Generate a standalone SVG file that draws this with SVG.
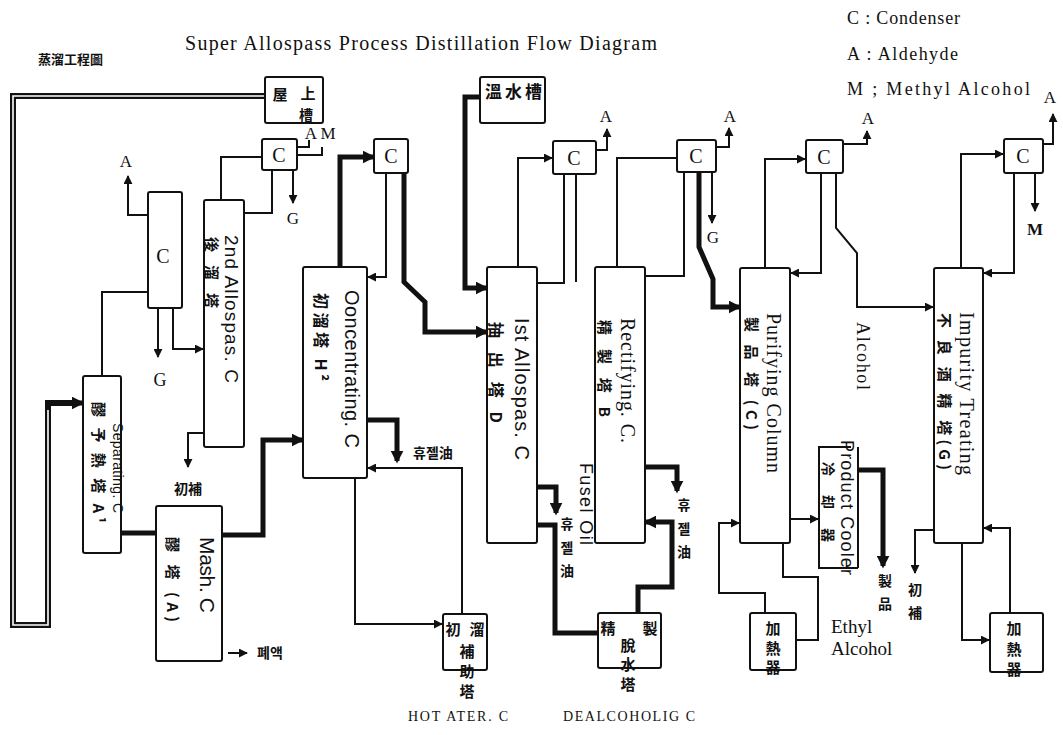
<svg xmlns="http://www.w3.org/2000/svg" width="1063" height="735" viewBox="0 0 1063 735">
<style>
.bx{fill:#fff;stroke:#111;stroke-width:2}
.tn{fill:none;stroke:#111;stroke-width:2}
.tk{fill:none;stroke:#111;stroke-width:5}
.sf{font-family:"Liberation Serif",serif;fill:#111}
.ss{font-family:"Liberation Sans",sans-serif;fill:#111}
.cj{font-family:"Noto Sans CJK KR","Noto Sans CJK TC",sans-serif;font-weight:bold;fill:#111}
.c{text-anchor:middle;dominant-baseline:central}
.rv{dominant-baseline:central}
</style>
<defs>
<marker id="a" viewBox="0 0 10 10" refX="9" refY="5" markerWidth="9" markerHeight="9" markerUnits="userSpaceOnUse" orient="auto"><path d="M0,0 L10,5 L0,10 z" fill="#111"/></marker>
<marker id="ak" viewBox="0 0 10 10" refX="8" refY="5" markerWidth="13" markerHeight="13" markerUnits="userSpaceOnUse" orient="auto"><path d="M0,0 L10,5 L0,10 z" fill="#111"/></marker>
</defs>
<rect width="1063" height="735" fill="#fff"/>

<!-- titles and legend -->
<text class="cj" x="38" y="64" font-size="13">蒸溜工程圖</text>
<text class="sf" x="185" y="50" font-size="20" textLength="472">Super Allospass Process Distillation Flow Diagram</text>
<text class="sf" x="847" y="24" font-size="18" textLength="113">C : Condenser</text>
<text class="sf" x="847" y="60" font-size="18" textLength="111">A : Aldehyde</text>
<text class="sf" x="847" y="95" font-size="18" textLength="183">M ; Methyl Alcohol</text>
<text class="sf" x="408" y="721" font-size="14" textLength="100">HOT ATER. C</text>
<text class="sf" x="563" y="721" font-size="14" textLength="132">DEALCOHOLIG C</text>

<!-- connectors -->
<g id="connectors">
<path d="M265 96 H13 V625 H48 V403 H72" fill="none" stroke="#111" stroke-width="6"/>
<path d="M265 96 H13 V625 H48 V410" fill="none" stroke="#fff" stroke-width="1.6"/>
<path d="M48 403 H82" class="tk" marker-end="url(#ak)"/>
<path d="M148 215 H128 V176" class="tn" marker-end="url(#a)"/>
<path d="M102 376 V292 H148" class="tn"/>
<path d="M158 308 V357" class="tn" marker-end="url(#a)"/>
<path d="M173 308 V349 H203" class="tn" marker-end="url(#a)"/>
<path d="M205 433 H188 V467" class="tn" marker-end="url(#a)"/>
<path d="M221 200 V157 H262" class="tn"/>
<path d="M272 170 V213 H243" class="tn"/>
<path d="M293 170 V203" class="tn" stroke-width="3" marker-end="url(#a)"/>
<path d="M297 147 H309 V140" class="tn"/>
<path d="M297 155 H322 V147" class="tn"/>
<path d="M340 267 V157 H373" class="tk" marker-end="url(#ak)"/>
<path d="M386 173 V277 H368" class="tn" marker-end="url(#a)"/>
<path d="M404 173 V282 L425 302 V332 H486" class="tk" marker-end="url(#ak)"/>
<path d="M122 533 H156" class="tk"/>
<path d="M222 535 H263 V440 H302" class="tk" marker-end="url(#ak)"/>
<path d="M367 420 H397 V461" class="tk" marker-end="url(#ak)"/>
<path d="M462 613 V468 H368" class="tn" marker-end="url(#a)"/>
<path d="M355 478 V624 H442" class="tn" marker-end="url(#a)"/>
<path d="M480 97 H465 V288 H486" class="tk" marker-end="url(#ak)"/>
<path d="M518 267 V158 H552" class="tn" marker-end="url(#a)"/>
<path d="M596 150 H607 V129" class="tn" marker-end="url(#a)"/>
<path d="M564 174 V283 H537" class="tn"/>
<path d="M576 174 V282" class="tn"/>
<path d="M537 487 H556 V513" class="tk" marker-end="url(#ak)"/>
<path d="M537 525 H555 V633 H598" class="tk"/>
<path d="M617 267 V158 H677" class="tn"/>
<path d="M716 147 H729 V128" class="tn" marker-end="url(#a)"/>
<path d="M684 172 V276 H645" class="tn"/>
<path d="M712 172 V223" class="tn" stroke-width="3" marker-end="url(#a)"/>
<path d="M699 172 V247 L713 279 V307 H739" class="tk" marker-end="url(#ak)"/>
<path d="M645 467 H677 V491" class="tk" marker-end="url(#ak)"/>
<path d="M638 613 V587 H672 V522 H646" class="tk" marker-end="url(#ak)"/>
<path d="M765 268 V159 H805" class="tn" marker-end="url(#a)"/>
<path d="M843 144 H867 V131" class="tn" marker-end="url(#a)"/>
<path d="M821 173 V273 H791" class="tn" marker-end="url(#a)"/>
<path d="M836 173 V228 L857 253 V307 H933" class="tn" marker-end="url(#a)"/>
<path d="M961 268 V154 H1003" class="tn" marker-end="url(#a)"/>
<path d="M1043 144 H1053 V114" class="tn" marker-end="url(#a)"/>
<path d="M1035 173 V211" class="tn" marker-end="url(#a)"/>
<path d="M1014 173 V273 H984" class="tn" marker-end="url(#a)"/>
<path d="M790 519 H818" class="tn" stroke-width="3.5" marker-end="url(#a)"/>
<path d="M859 470 H883 V566" class="tk" marker-end="url(#ak)"/>
<path d="M765 613 V593 H719 V523 H739" class="tn" marker-end="url(#a)"/>
<path d="M783 543 V577 H818 V640 H796" class="tn"/>
<path d="M934 530 H915 V573" class="tn" marker-end="url(#a)"/>
<path d="M962 543 V640 H989" class="tn" marker-end="url(#a)"/>
<path d="M1010 613 V528 H984" class="tn" marker-end="url(#a)"/>
<path d="M228 653 H247" class="tn" stroke-width="3" marker-end="url(#a)"/>
</g>

<!-- connector labels -->
<g id="labels">
<text class="sf c" x="126" y="161" font-size="17">A</text>
<text class="sf c" x="160" y="380" font-size="18">G</text>
<text class="cj c" x="188" y="488" font-size="14">初補</text>
<text class="sf c" x="293" y="218" font-size="17">G</text>
<text class="sf c" x="311" y="133" font-size="17">A</text>
<text class="sf c" x="328" y="133" font-size="17">M</text>
<text class="cj c" x="433" y="452" font-size="14">휴젤油</text>
<text class="sf c" x="606" y="116" font-size="17">A</text>
<text class="cj c" x="567" y="523" font-size="14">휴</text>
<text class="cj c" x="567" y="547" font-size="14">젤</text>
<text class="cj c" x="567" y="570" font-size="14">油</text>
<text class="sf c" x="730" y="116" font-size="17">A</text>
<text class="sf c" x="713" y="237" font-size="17">G</text>
<text class="cj c" x="684" y="504" font-size="14">휴</text>
<text class="cj c" x="684" y="528" font-size="14">젤</text>
<text class="cj c" x="684" y="551" font-size="14">油</text>
<text class="sf c" x="868" y="118" font-size="17">A</text>
<text class="sf c" x="1050" y="97" font-size="17">A</text>
<text class="sf c" x="1035" y="229" font-size="17" font-weight="bold">M</text>
<text class="cj c" x="885" y="580" font-size="14">製</text>
<text class="cj c" x="885" y="603" font-size="14">品</text>
<text class="cj c" x="915" y="589" font-size="14">初</text>
<text class="cj c" x="915" y="612" font-size="14">補</text>
<text class="sf" x="831" y="633" font-size="19">Ethyl</text>
<text class="sf" x="831" y="655" font-size="19">Alcohol</text>
<text class="sf rv" transform="translate(863,322) rotate(90)" font-size="18" textLength="68">Alcohol</text>
<text class="cj" x="257" y="658" font-size="14">폐액</text>
</g>

<!-- nodes -->
<g id="n-roof"><rect class="bx" x="265" y="77" width="58" height="46" rx="2"/>
<text class="cj c" x="280" y="93" font-size="15">屋</text><text class="cj c" x="308" y="92" font-size="15">上</text><text class="cj c" x="306" y="114" font-size="14">槽</text></g>
<g id="n-c1"><rect class="bx" x="262" y="139" width="35" height="31" rx="2"/><text class="sf c" x="279" y="155" font-size="20">C</text></g>
<g id="n-colc"><rect class="bx" x="148" y="192" width="34" height="116" rx="2"/><text class="sf c" x="163" y="256" font-size="20">C</text></g>
<g id="n-2nd"><rect class="bx" x="204" y="200" width="40" height="247" rx="2"/>
<text class="ss rv" transform="translate(231,235) rotate(90)" font-size="19" textLength="148">2nd Allospas. C</text>
<text class="cj rv" transform="translate(212,237) rotate(90)" font-size="15" textLength="71">後 溜 塔</text></g>
<g id="n-sep"><rect class="bx" x="83" y="376" width="38" height="177" rx="2"/>
<text class="cj rv" transform="translate(99,402) rotate(90)" font-size="15" textLength="121">醪 予 熱 塔 A¹</text>
<text class="ss rv" transform="translate(118,423) rotate(90)" font-size="14" textLength="90">Separating. C</text></g>
<g id="n-mash"><rect class="bx" x="156" y="506" width="66" height="155" rx="2"/>
<text class="ss rv" transform="translate(207,537) rotate(90)" font-size="21" textLength="76">Mash. C</text>
<text class="cj rv" transform="translate(173,537) rotate(90)" font-size="15" textLength="85">醪 塔 (A)</text></g>
<g id="n-conc"><rect class="bx" x="303" y="267" width="64" height="211" rx="2"/>
<text class="ss rv" transform="translate(352,290) rotate(90)" font-size="20" textLength="158">Ooncentrating. C</text>
<text class="cj rv" transform="translate(322,293) rotate(90)" font-size="16" textLength="88">初溜塔 H²</text></g>
<g id="n-c2"><rect class="bx" x="374" y="139" width="34" height="34" rx="2"/><text class="sf c" x="391" y="156" font-size="20">C</text></g>
<g id="n-aux"><rect class="bx" x="443" y="614" width="44" height="56" rx="2"/>
<text class="cj c" x="453" y="628" font-size="15">初</text><text class="cj c" x="477" y="628" font-size="15">溜</text>
<text class="cj c" x="467" y="650" font-size="15">補</text><text class="cj c" x="467" y="670" font-size="15">助</text><text class="cj c" x="467" y="690" font-size="15">塔</text></g>
<g id="n-hot"><rect class="bx" x="480" y="77" width="65" height="46" rx="2"/><text class="cj" x="485" y="98" font-size="17" textLength="57">溫水槽</text></g>
<g id="n-1st"><rect class="bx" x="487" y="267" width="50" height="276" rx="2"/>
<text class="ss rv" transform="translate(522,318) rotate(90)" font-size="20" textLength="142">Ist Allospas. C</text>
<text class="cj rv" transform="translate(497,322) rotate(90)" font-size="16" textLength="101">抽 出 塔 D</text></g>
<g id="n-c3"><rect class="bx" x="553" y="141" width="43" height="33" rx="2"/><text class="sf c" x="574" y="158" font-size="20">C</text></g>
<g id="n-rect"><rect class="bx" x="595" y="267" width="50" height="276" rx="2"/>
<text class="sf rv" transform="translate(628,318) rotate(90)" font-size="20" textLength="125">Rectifying. C.</text>
<text class="cj rv" transform="translate(605,320) rotate(90)" font-size="15" textLength="97">精 製 塔 B</text></g>
<text class="ss rv" transform="translate(586,463) rotate(90)" font-size="18" textLength="82">Fusel Oil</text>
<g id="n-c4"><rect class="bx" x="677" y="140" width="39" height="32" rx="2"/><text class="sf c" x="696" y="156" font-size="20">C</text></g>
<g id="n-dehyd"><rect class="bx" x="598" y="613" width="63" height="55" rx="2"/>
<text class="cj c" x="608" y="627" font-size="15">精</text><text class="cj c" x="650" y="627" font-size="15">製</text>
<text class="cj c" x="628" y="644" font-size="15">脫</text><text class="cj c" x="628" y="663" font-size="15">水</text><text class="cj c" x="628" y="683" font-size="15">塔</text></g>
<g id="n-pur"><rect class="bx" x="740" y="268" width="50" height="275" rx="2"/>
<text class="sf rv" transform="translate(774,313) rotate(90)" font-size="20" textLength="160">Purifying Column</text>
<text class="cj rv" transform="translate(752,317) rotate(90)" font-size="15" textLength="113">製 品 塔 (C)</text></g>
<g id="n-c5"><rect class="bx" x="806" y="140" width="37" height="33" rx="2"/><text class="sf c" x="824" y="157" font-size="20">C</text></g>
<g id="n-cool"><path class="tn" d="M851 447 H819 V568 H858 M858 447 V568"/>
<text class="ss rv" transform="translate(847,440) rotate(90)" font-size="18" textLength="135">Product Cooler</text>
<text class="cj rv" transform="translate(829,462) rotate(90)" font-size="14" textLength="80">冷 却 器</text></g>
<g id="n-imp"><rect class="bx" x="934" y="268" width="49" height="275" rx="2"/>
<text class="sf rv" transform="translate(967,312) rotate(90)" font-size="20" textLength="163">Impurity Treating</text>
<text class="cj rv" transform="translate(945,313) rotate(90)" font-size="15" textLength="157">不 良 酒 精 塔(G)</text></g>
<g id="n-c6"><rect class="bx" x="1004" y="139" width="39" height="34" rx="2"/><text class="sf c" x="1023" y="156" font-size="20">C</text></g>
<g id="n-heat1"><rect class="bx" x="750" y="613" width="46" height="57" rx="2"/>
<text class="cj c" x="773" y="627" font-size="15">加</text><text class="cj c" x="773" y="647" font-size="15">熱</text><text class="cj c" x="773" y="666" font-size="15">器</text></g>
<g id="n-heat2"><rect class="bx" x="990" y="613" width="53" height="59" rx="2"/>
<text class="cj c" x="1014" y="627" font-size="15">加</text><text class="cj c" x="1014" y="648" font-size="15">熱</text><text class="cj c" x="1014" y="668" font-size="15">器</text></g>
</svg>
